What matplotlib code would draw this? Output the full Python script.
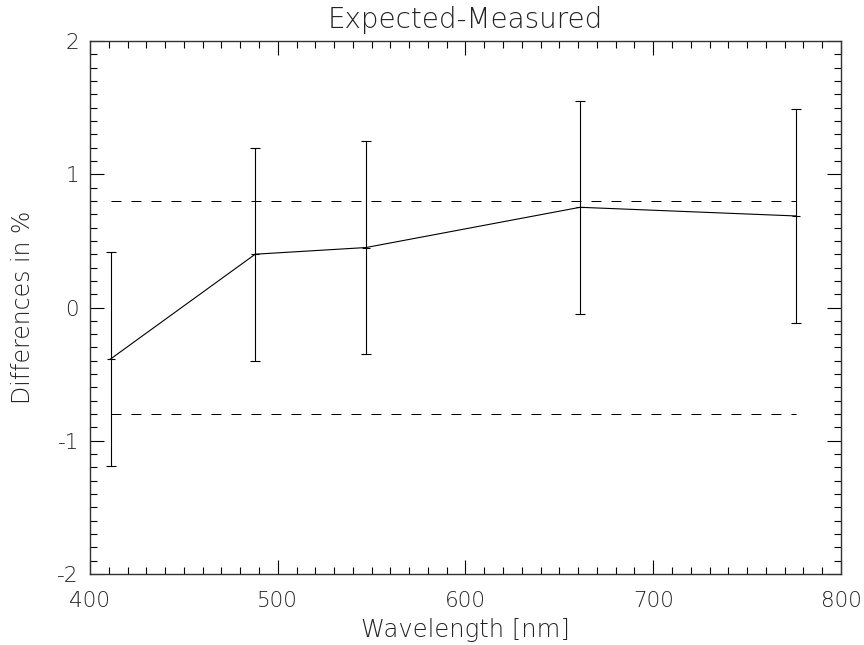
import numpy as np
import matplotlib
matplotlib.use("Agg")
import matplotlib.pyplot as plt
from matplotlib.ticker import MultipleLocator

# wavelength bands and expected-measured differences
wavelength = [411, 488, 547, 661, 776]
difference = [-0.386, 0.40, 0.45, 0.752, 0.687]
uncertainty = [0.80, 0.80, 0.80, 0.80, 0.80]
limit = 0.8

plt.rcParams["font.family"] = "DejaVu Sans"
plt.rcParams["font.weight"] = "light"
plt.rcParams["axes.unicode_minus"] = False

fig = plt.figure(figsize=(8.64, 6.45), dpi=100)
ax = fig.add_axes([90 / 864, 71 / 645, 751 / 864, 533 / 645])

lw = 0.8
ax.errorbar(wavelength, difference, yerr=uncertainty, color="black",
            linewidth=lw, elinewidth=lw, capsize=3.5, capthick=lw,
            marker="_", markersize=6, markeredgewidth=lw)

for lvl in (limit, -limit):
    ax.plot([wavelength[0], wavelength[-1]], [lvl, lvl], color="black",
            linewidth=0.72, dashes=(10, 10))

ax.set_xlim(400, 800)
ax.set_ylim(-2, 2)
ax.xaxis.set_major_locator(MultipleLocator(100))
ax.xaxis.set_minor_locator(MultipleLocator(10))
ax.yaxis.set_major_locator(MultipleLocator(1))
ax.yaxis.set_minor_locator(MultipleLocator(0.1))

ax.tick_params(which="both", direction="in", top=True, right=True,
               color="black", labelsize=15.5, labelcolor="#222222")
ax.tick_params(which="major", length=10, width=0.8)
ax.tick_params(axis="x", which="major", pad=12)
ax.tick_params(axis="y", which="major", pad=8)
ax.tick_params(which="minor", length=5, width=0.8)
for s in ax.spines.values():
    s.set_linewidth(1.0)
    s.set_color("#333333")

txt = dict(color="#222222", fontweight="light")
ax.set_title("Expected-Measured", fontsize=20, pad=9, **txt)
ax.set_xlabel("Wavelength [nm]", fontsize=17.5, labelpad=5, **txt)
ax.set_ylabel("Differences in %", fontsize=17, labelpad=16, **txt)

fig.savefig("out.png", dpi=100)
